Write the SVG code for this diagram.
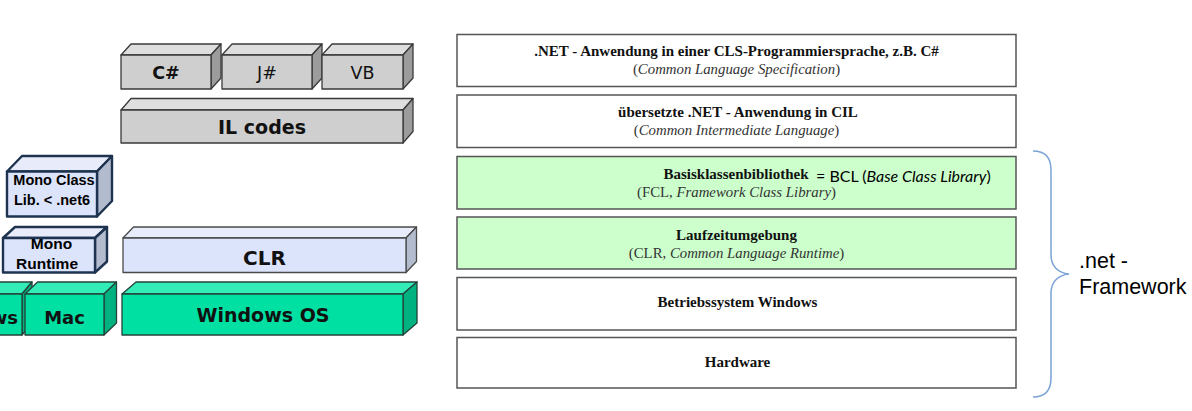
<svg xmlns="http://www.w3.org/2000/svg" width="1192" height="411" viewBox="0 0 1192 411">
<style>
.g-front{fill:#cfcfcf}.g-top{fill:#dedede}.g-side{fill:#9c9c9c}
.gray path{stroke:#3a3a3a;stroke-width:1.3;stroke-linejoin:round}
.b-front{fill:#dce4fb}.b-top{fill:#e8ecfa}.b-side{fill:#b3bbcf}
.blue path{stroke:#4a4a4a;stroke-width:1.3;stroke-linejoin:round}
.m path{stroke:#1e3350;stroke-width:2.4;stroke-linejoin:round}
.gr-front{fill:#00e0a2}.gr-top{fill:#33edb9}.gr-side{fill:#00b27f}
.green path{stroke:#24433a;stroke-width:1.3;stroke-linejoin:round}
.bt{font-family:"DejaVu Sans",Verdana,sans-serif;font-weight:bold;fill:#111;text-anchor:middle}
.rt{font-family:"DejaVu Sans",Verdana,sans-serif;fill:#111;text-anchor:middle}
.mt{font-family:"Liberation Sans",Arial,sans-serif;font-weight:bold;fill:#000;text-anchor:middle}
.layer{stroke:#555;stroke-width:1.5}
.white{fill:#fff}.lg{fill:#ccffcc}
.st{font-family:"Liberation Serif","Times New Roman",serif;font-weight:bold;font-size:15px;fill:#111;text-anchor:middle}
.sub{font-family:"Liberation Serif","Times New Roman",serif;font-size:14.8px;fill:#333;text-anchor:middle}
.sub tspan.i{font-style:italic}
.note{font-family:Lato,"Liberation Sans",sans-serif;font-size:16px;fill:#000}
.fw{font-family:"Liberation Sans",Arial,sans-serif;font-size:21.5px;fill:#000}
</style>

<!-- left: 3D stack -->
<g id="cs" class="gray">
<path class="g-top" d="M121,55 L131,44 L221,44 L211,55 Z"/>
<path class="g-side" d="M211,55 L221,44 L221,78 L211,89 Z"/>
<path class="g-front" d="M121,55 H211 V89 H121 Z"/>
<text class="bt" x="166" y="79" font-size="17.5">C#</text>
</g>
<g id="js" class="gray">
<path class="g-top" d="M222,55 L232,44 L322,44 L312,55 Z"/>
<path class="g-side" d="M312,55 L322,44 L322,78 L312,89 Z"/>
<path class="g-front" d="M222,55 H312 V89 H222 Z"/>
<text class="rt" x="267" y="79" font-size="17.5">J#</text>
</g>
<g id="vb" class="gray">
<path class="g-top" d="M322,55 L332,44 L413,44 L403,55 Z"/>
<path class="g-side" d="M403,55 L413,44 L413,78 L403,89 Z"/>
<path class="g-front" d="M322,55 H403 V89 H322 Z"/>
<text class="rt" x="362.5" y="79" font-size="17.5">VB</text>
</g>
<g id="il" class="gray">
<path class="g-top" d="M121,110 L131,98.5 L413,98.5 L403,110 Z"/>
<path class="g-side" d="M403,110 L413,98.5 L413,131.5 L403,143 Z"/>
<path class="g-front" d="M121,110 H403 V143 H121 Z"/>
<text class="bt" x="262" y="134" font-size="19">IL codes</text>
</g>
<g id="monoclass" class="m">
<path class="b-top" d="M7,171.5 L22,156 L112,156 L97,171.5 Z"/>
<path class="b-side" d="M97,171.5 L112,156 L112,201 L97,216.5 Z"/>
<path class="b-front" d="M7,171.5 H97 V216.5 H7 Z"/>
<text class="mt" x="54" y="184.5" font-size="14.5">Mono Class</text>
<text class="mt" x="52" y="204.5" font-size="14.5">Lib. &lt; .net6</text>
</g>
<g id="monort" class="m">
<path class="b-top" d="M3,238 L15,227 L107,227 L95,238 Z"/>
<path class="b-side" d="M95,238 L107,227 L107,261.5 L95,272.5 Z"/>
<path class="b-front" d="M3,238 H95 V272.5 H3 Z"/>
<text class="mt" x="51.5" y="248.5" font-size="15.5">Mono</text>
<text class="mt" x="47" y="268.5" font-size="15.5">Runtime</text>
</g>
<g id="clr" class="blue">
<path class="b-top" d="M123,238 L133.5,227 L416.5,227 L406,238 Z"/>
<path class="b-side" d="M406,238 L416.5,227 L416.5,261.5 L406,272.5 Z"/>
<path class="b-front" d="M123,238 H406 V272.5 H123 Z"/>
<text class="bt" x="264.5" y="265" font-size="20">CLR</text>
</g>
<g id="winleft" class="green">
<path class="gr-top" d="M-70,294 L-60,282 L32,282 L22,294 Z"/>
<path class="gr-side" d="M22,294 L32,282 L32,323 L22,335 Z"/>
<path class="gr-front" d="M-70,294 H22 V335 H-70 Z"/>
<text class="bt" x="18" y="324" font-size="18" style="text-anchor:end">ws</text>
</g>
<g id="mac" class="green">
<path class="gr-top" d="M25,294 L37.5,282 L116.5,282 L104,294 Z"/>
<path class="gr-side" d="M104,294 L116.5,282 L116.5,323 L104,335 Z"/>
<path class="gr-front" d="M25,294 H104 V335 H25 Z"/>
<text class="bt" x="64.5" y="324" font-size="18">Mac</text>
</g>
<g id="winos" class="green">
<path class="gr-top" d="M122,294 L136,282 L417,282 L403,294 Z"/>
<path class="gr-side" d="M403,294 L417,282 L417,323 L403,335 Z"/>
<path class="gr-front" d="M122,294 H403 V335 H122 Z"/>
<text class="bt" x="263" y="322" font-size="19">Windows OS</text>
</g>

<!-- right: layer table -->
<g id="l1">
<rect class="layer white" x="457" y="34.5" width="559" height="52"/>
<text class="st" x="736.5" y="56">.NET - Anwendung in einer CLS-Programmiersprache, z.B. C#</text>
<text class="sub" x="736.5" y="74">(<tspan class="i">Common Language Specification</tspan>)</text>
</g>
<g id="l2">
<rect class="layer white" x="457" y="95" width="559" height="52.5"/>
<text class="st" x="738" y="117">übersetzte .NET - Anwendung in CIL</text>
<text class="sub" x="736.5" y="135">(<tspan class="i">Common Intermediate Language</tspan>)</text>
</g>
<g id="l3">
<rect class="layer lg" x="457" y="156.5" width="559" height="52.5"/>
<text class="st" x="736" y="179">Basisklassenbibliothek</text>
<text class="sub" x="736.5" y="197">(FCL, <tspan class="i">Framework Class Library</tspan>)</text>
<text class="note" x="816" y="182">= BCL (<tspan font-style="italic">Base Class Library</tspan>)</text>
</g>
<g id="l4">
<rect class="layer lg" x="457" y="217" width="559" height="52"/>
<text class="st" x="736.5" y="240">Laufzeitumgebung</text>
<text class="sub" x="736.5" y="258">(CLR, <tspan class="i">Common Language Runtime</tspan>)</text>
</g>
<g id="l5">
<rect class="layer white" x="457" y="277.5" width="559" height="52.5"/>
<text class="st" x="737.5" y="307">Betriebssystem Windows</text>
</g>
<g id="l6">
<rect class="layer white" x="457" y="337.5" width="559" height="50.5"/>
<text class="st" x="737.5" y="367">Hardware</text>
</g>

<g id="connectors">
<path d="M1033,151 C1045,151 1051,158 1051,170 L1051,255 C1051,266 1058,273 1069,274 C1058,275 1051,282 1051,293 L1051,378 C1051,390 1045,397 1033,397" fill="none" stroke="#7ba3d6" stroke-width="1.5"/>
</g>
<g id="framework">
<text class="fw" x="1079" y="268">.net -</text>
<text class="fw" x="1079" y="294">Framework</text>
</g>
</svg>
